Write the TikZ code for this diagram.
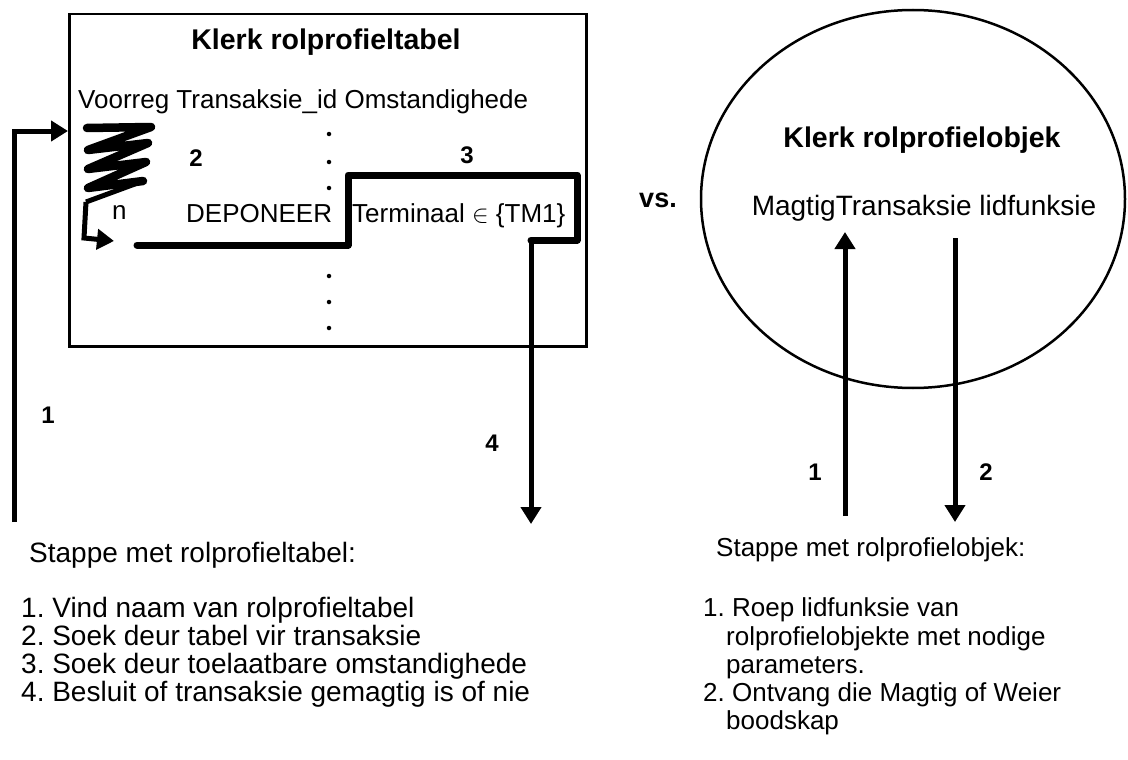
\documentclass[tikz,border=0pt]{standalone}
\usepackage{fontspec}
\setmainfont{Liberation Sans}
\usetikzlibrary{arrows.meta,shapes.geometric}
\frenchspacing
\begin{document}
\begin{tikzpicture}[x=1pt,y=-1pt,
  txt/.style={inner sep=0pt,font=\fontsize{26}{30}\selectfont},
  big/.style={inner sep=0pt,font=\fontsize{28}{30}\selectfont},
  ttl/.style={inner sep=0pt,font=\fontsize{28.5}{30}\selectfont\bfseries},
  num/.style={inner sep=0pt,font=\fontsize{24}{28}\selectfont\bfseries},
  head/.style={-{Triangle[length=17pt,width=20pt]}},
  bigline/.style={line width=7pt,line join=round,line cap=round},
  coil/.style={line width=8.5pt,line join=round,line cap=round},
  midline/.style={line width=5pt,line join=miter},
  dot/.style={circle,fill,inner sep=0pt,minimum size=4.5pt}]
\useasboundingbox (0,0) rectangle (1128,760);

% ---- role profile table ----
\node[draw,line width=2.5pt,minimum width=517pt,minimum height=332pt,anchor=north west,inner sep=0pt] (tbl) at (68,13) {};
\node[ttl,anchor=base] (tbltitle) at (326,50) {Klerk rolprofieltabel};
\node[txt,anchor=base west] (cols) at (78,108) {Voorreg Transaksie\_id Omstandighede};
\node[num] (n2) at (196,158) {2};
\node[num] (n3) at (467,155) {3};
\node[txt,anchor=base west] (nn) at (112,219) {n};
\node[txt,anchor=base west] (dep) at (186,222) {DEPONEER};
\node[txt,anchor=base west] (term) at (352,222) {Terminaal $\in$ \{TM1\}};

% column of dots
\foreach \y/\k in {134/a,162/b,188/c,276/d,302/e,328/f}
  \node[dot] (dot\k) at (329,\y) {};

% coiled privilege spring
\draw[coil] (87,128) -- (151,127) -- (88,150) -- (148,143) -- (88,169)
  -- (146,162) -- (88,188) -- (143,181);
\draw[midline,line join=round] (143,181) -- (86,202) coordinate (springend);
\coordinate (backtip) at (114,241);
\draw[midline,head] (springend) -- (84,238) -- (backtip);

% step 1: into the table
\coordinate (s1start) at (14,522);
\coordinate (s1tip) at (68,131);
\draw[midline,head] (s1start) -- (s1start |- s1tip) -- (s1tip);
\node[num] (l1) at (48,415) {1};

% steps 2-4: through the rows and out
\coordinate (s4turn) at (531,240);
\coordinate (s4tip) at (531,524);
\draw[bigline] (137,245) -- (348,245) -- (348,175) -- (577,175) -- (577,240) -- (s4turn);
\draw[midline,head] ([yshift=-2pt]s4turn) -- (s4tip);
\node[num] (l4) at (492,443) {4};

\node[big,anchor=base west] (lhead) at (29,562) {Stappe met rolprofieltabel:};
\node[big,anchor=base west] (li1) at (21,617) {1. Vind naam van rolprofieltabel};
\node[big,anchor=base west] (li2) at (21,645) {2. Soek deur tabel vir transaksie};
\node[big,anchor=base west] (li3) at (21,673) {3. Soek deur toelaatbare omstandighede};
\node[big,anchor=base west] (li4) at (21,701) {4. Besluit of transaksie gemagtig is of nie};

\node[inner sep=0pt,font=\fontsize{27}{30}\selectfont\bfseries] (vs) at (658,200) {vs.};

% ---- role profile object ----
\node[draw,ellipse,line width=2.5pt,minimum width=424pt,minimum height=378pt,inner sep=0pt] (obj) at (913,199) {};
\node[ttl,anchor=base] (objtitle) at (922,147) {Klerk rolprofielobjek};
\node[big,anchor=base] (member) at (924,215) {MagtigTransaksie lidfunksie};
\coordinate (callstart) at (845,516);
\coordinate (calltip) at (845,232);
\coordinate (retstart) at (955,238);
\coordinate (rettip) at (955,522);
\draw[midline,head] (callstart) -- (calltip);
\draw[midline,head] (retstart) -- (rettip);
\node[num] (r1) at (815,472) {1};
\node[num] (r2) at (986,472) {2};

\node[txt,anchor=base west] (rhead) at (716,556) {Stappe met rolprofielobjek:};
\node[txt,anchor=base west] (ri1) at (703,616) {1. Roep lidfunksie van};
\node[txt,anchor=base west] (ri1b) at (726,645) {rolprofielobjekte met nodige};
\node[txt,anchor=base west] (ri1c) at (726,673) {parameters.};
\node[txt,anchor=base west] (ri2) at (703,701) {2. Ontvang die Magtig of Weier};
\node[txt,anchor=base west] (ri2b) at (726,729) {boodskap};
\end{tikzpicture}
\end{document}
